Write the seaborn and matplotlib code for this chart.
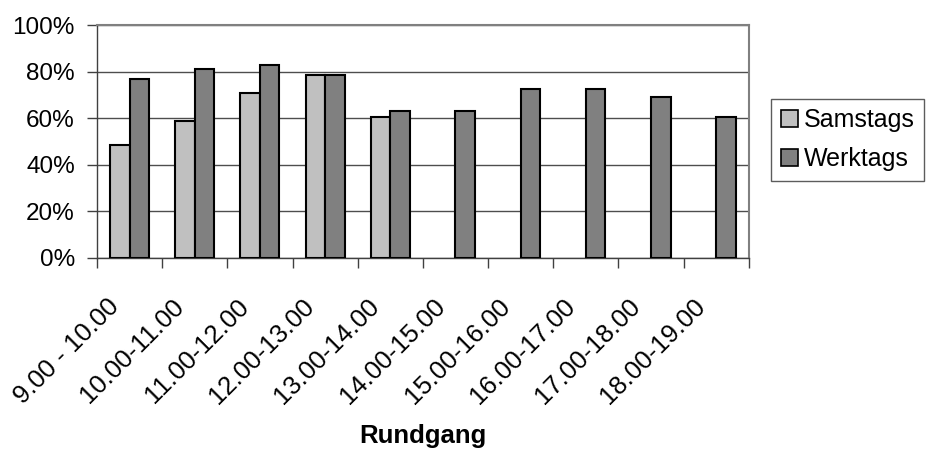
import matplotlib
matplotlib.use("Agg")
import matplotlib.pyplot as plt
import matplotlib.patches as mpatches
from matplotlib.ticker import FixedLocator, PercentFormatter
from matplotlib.transforms import ScaledTranslation
import numpy as np
import pandas as pd
import seaborn as sns

# Belegung je Rundgang (Anteil in %)
rundgaenge = ["9.00 - 10.00", "10.00-11.00", "11.00-12.00", "12.00-13.00",
              "13.00-14.00", "14.00-15.00", "15.00-16.00", "16.00-17.00",
              "17.00-18.00", "18.00-19.00"]
samstags = [48.6, 59.0, 71.0, 78.6, 60.7, np.nan, np.nan, np.nan, np.nan, np.nan]
werktags = [77.0, 81.3, 83.0, 78.6, 63.3, 63.3, 72.6, 72.6, 69.3, 60.7]
serien = ["Samstags", "Werktags"]
farben = ["#C0C0C0", "#808080"]

df = pd.DataFrame({
    "Rundgang": rundgaenge * 2,
    "Anteil": samstags + werktags,
    "Tag": [serien[0]] * len(rundgaenge) + [serien[1]] * len(rundgaenge),
})

sns.set_theme(style="white")
plt.rcParams["font.family"] = ["Liberation Sans", "DejaVu Sans"]
plt.rcParams["text.color"] = "black"
plt.rcParams["axes.labelcolor"] = "black"
plt.rcParams["xtick.labelcolor"] = "black"
plt.rcParams["ytick.labelcolor"] = "black"

fig = plt.figure(figsize=(9.29, 4.5), dpi=100)
ax = fig.add_axes([0.1044, 0.4267, 0.7016, 0.5173])

sns.barplot(data=df, x="Rundgang", y="Anteil", hue="Tag", order=rundgaenge,
            hue_order=serien, palette=farben, width=0.6, gap=0,
            edgecolor="black", linewidth=1.5, saturation=1, ax=ax, legend=False,
            zorder=3)

ax.set_ylim(0, 100)
ax.set_xlim(-0.5, len(rundgaenge) - 0.5)
ax.set_yticks([0, 20, 40, 60, 80, 100])
ax.yaxis.set_major_formatter(PercentFormatter(decimals=0))
ax.yaxis.grid(True, color="#4d4d4d", linewidth=1, zorder=0)
ax.set_axisbelow(True)

# Kategorie-Grenzen als Teilstriche, Beschriftung mittig
ax.xaxis.set_minor_locator(FixedLocator(np.arange(-0.5, len(rundgaenge), 1.0)))
ax.tick_params(axis="x", which="major", length=0, pad=12, labelsize=18.5, labelcolor="black")
ax.tick_params(axis="x", which="minor", bottom=True, length=7, width=1, color="#404040", direction="out")
ax.tick_params(axis="y", left=True, length=7, width=1, color="#404040", direction="out", pad=9,
               labelsize=17.5, labelcolor="black")
shift = ScaledTranslation(-0.23, -0.20, fig.dpi_scale_trans)
for lbl in ax.get_xticklabels():
    lbl.set_rotation(45)
    lbl.set_ha("right")
    lbl.set_rotation_mode("anchor")
    lbl.set_transform(lbl.get_transform() + shift)

for side in ["left", "bottom"]:
    ax.spines[side].set_color("#404040")
    ax.spines[side].set_linewidth(1)
for side in ["top", "right"]:
    ax.spines[side].set_color("#808080")
    ax.spines[side].set_linewidth(1.5)

ax.set_ylabel("")
ax.set_xlabel("Rundgang", fontsize=18.5, fontweight="bold", va="top", color="black")
ax.xaxis.set_label_coords(0.5, -0.715)

handles = [mpatches.Patch(facecolor=f, edgecolor="black", linewidth=1.2, label=s)
           for f, s in zip(farben, serien)]
leg = fig.legend(handles=handles, loc="upper left", bbox_to_anchor=(771 / 929, 1 - 99 / 450),
                 frameon=True, fancybox=False, fontsize=18, handlelength=0.68,
                 handleheight=0.68, handletextpad=0.24, borderpad=0.38, labelspacing=0.58,
                 borderaxespad=0, labelcolor="black")
leg.get_frame().set_edgecolor("#333333")
leg.get_frame().set_linewidth(1)

fig.savefig("out.png", dpi=100)
